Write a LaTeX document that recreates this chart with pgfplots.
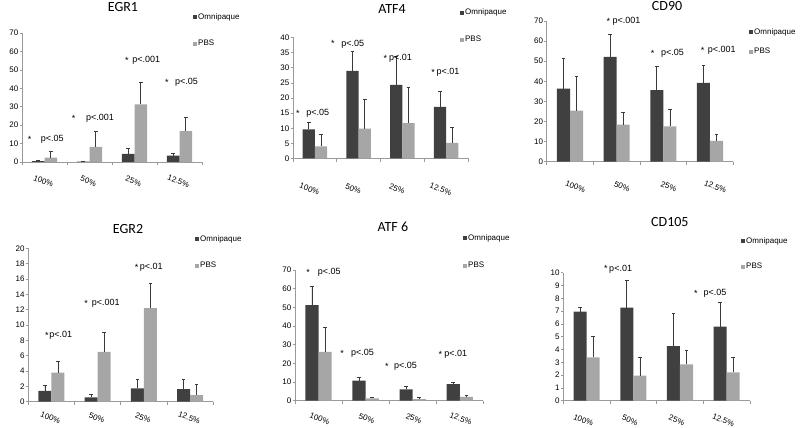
\documentclass[border=0pt]{standalone}
\usepackage{fontspec}
\setmainfont{Liberation Sans}
\newfontfamily\titlefont{Carlito}
\usepackage{pgfplots}
\usepackage{pgfplotstable}
\pgfplotsset{compat=1.18}

\definecolor{omnicol}{HTML}{404040}
\definecolor{pbscol}{HTML}{A6A6A6}
\definecolor{errcol}{HTML}{3A3A3A}
\definecolor{axisgray}{HTML}{9A9A9A}

\newcommand\ticks{\fontsize{8}{9}\selectfont}
\newcommand\pfont{\fontsize{9}{10}\selectfont}
\newcommand\tfont{\titlefont\fontsize{14}{15}\selectfont}
% star at x=#1, text starting at x=#2, both at height #3
\newcommand\pv[4]{%
  \node[font=\pfont, inner sep=0pt] at (axis cs:#1,#3) {*};
  \node[font=\pfont, inner sep=0pt, anchor=west] at (axis cs:#2,#3) {p<#4};}

% x, Omnipaque, error, PBS, error
\pgfplotstableread{
x o oe p pe
0 0.5 0.5 2.4 3.2
1 0.2 0.3 8.2 8.4
2 4.4 3.0 31.2 11.8
3 3.4 1.4 16.8 7.6
}\egrone
\pgfplotstableread{
x o oe p pe
0 9.6 2.3 4.0 3.9
1 29.0 6.5 9.9 9.6
2 24.3 9.5 11.7 11.9
3 17.1 5.1 5.2 5.2
}\atffour
\pgfplotstableread{
x o oe p pe
0 36.3 15.3 25.4 17.0
1 52.2 11.3 18.4 6.0
2 35.6 11.7 17.6 8.4
3 39.2 8.7 10.3 3.2
}\cdninety
\pgfplotstableread{
x o oe p pe
0 1.4 0.7 3.8 1.5
1 0.55 0.4 6.5 2.6
2 1.75 1.15 12.2 3.2
3 1.65 1.25 0.87 1.33
}\egrtwo
\pgfplotstableread{
x o oe p pe
0 51.2 10.2 26.1 13.0
1 10.7 1.6 1.25 0.75
2 6.1 1.8 0.9 0.9
3 8.9 0.9 2.0 0.9
}\atfsix
\pgfplotstableread{
x o oe p pe
0 6.95 0.32 3.39 1.61
1 7.27 2.16 1.95 1.44
2 4.27 2.55 2.84 1.12
3 5.78 1.88 2.21 1.18
}\cdonefive

\pgfplotsset{
  panel/.style={
    scale only axis, anchor=south west, ybar, bar width=0.28,
    xmin=-0.5, xmax=3.5, ymin=0, clip=false,
    axis x line*=bottom, axis y line*=left,
    axis line style={draw=axisgray, line width=0.7pt},
    xtick={0,1,2,3}, xticklabels={100\%,50\%,25\%,12.5\%},
    minor xtick={-0.5,0.5,1.5,2.5,3.5},
    major x tick style={draw=none},
    minor x tick style={draw=axisgray, line width=0.7pt},
    ytick style={draw=axisgray, line width=0.7pt},
    tick align=outside, major tick length=2.5pt, minor tick length=3.5pt,
    tick label style={font=\ticks},
    /pgf/number format/assume math mode=true,
    yticklabel style={inner sep=1pt},
    xticklabel style={rotate=-21, anchor=center},
    title style={font=\tfont, anchor=center},
    legend style={draw=none, fill=none, font=\ticks, anchor=north west,
      inner sep=0pt, nodes={inner sep=1pt}},
    legend cell align=left,
    legend image code/.code={\fill[##1] (0pt,-2pt) rectangle (4pt,2pt);},
  },
  omni/.style={fill=omnicol, draw=none, bar shift=-0.14,
    error bars/y dir=plus, error bars/y explicit,
    error bars/error bar style={draw=errcol, line width=0.7pt},
    error bars/error mark options={rotate=90, mark size=1.8pt, draw=errcol, line width=0.7pt}},
  pbs/.style={fill=pbscol, draw=none, bar shift=0.14,
    error bars/y dir=plus, error bars/y explicit,
    error bars/error bar style={draw=errcol, line width=0.7pt},
    error bars/error mark options={rotate=90, mark size=1.8pt, draw=errcol, line width=0.7pt}},
}

\begin{document}
\begin{tikzpicture}
\useasboundingbox (0,0) rectangle (800pt,428pt);

% EGR1
\begin{axis}[panel, at={(22pt,266pt)}, width=180pt, height=129pt,
  ymax=70, ytick={0,10,...,70},
  xticklabel style={xshift=5pt, yshift=-16pt},
  title=EGR1, title style={at={(axis description cs:0.561,1.155)}},
  legend style={at={(axis description cs:0.95,1.162)}, row sep=17.5pt}]
\addplot[omni] table[x=x, y=o, y error=oe] {\egrone};
\addplot[pbs] table[x=x, y=p, y error=pe] {\egrone};
\legend{Omnipaque, PBS}
\pv{-0.33}{-0.083}{12.3}{.05}
\pv{0.65}{0.92}{23.8}{.001}
\pv{1.83}{1.95}{55.2}{.001}
\pv{2.72}{2.9}{43.2}{.05}
\end{axis}

% ATF4
\begin{axis}[panel, at={(293pt,269.5pt)}, width=175pt, height=121pt,
  ymax=40, ytick={0,5,...,40},
  xticklabel style={xshift=5pt, yshift=-28pt},
  title=ATF4, title style={at={(axis description cs:0.566,1.186)}},
  legend style={at={(axis description cs:0.954,1.244)}, row sep=17.5pt}]
\addplot[omni] table[x=x, y=o, y error=oe] {\atffour};
\addplot[pbs] table[x=x, y=p, y error=pe] {\atffour};
\legend{Omnipaque, PBS}
\pv{-0.39}{-0.2}{15}{.05}
\pv{0.41}{0.6}{37.9}{.05}
\pv{1.61}{1.69}{33.2}{.01}
\pv{2.7}{2.78}{28.5}{.01}
\end{axis}

% CD90
\begin{axis}[panel, at={(546.7pt,266.3pt)}, width=186.6pt, height=140.7pt,
  ymax=70, ytick={0,10,...,70},
  xticklabel style={xshift=13pt, yshift=-19pt},
  title=CD90, title style={at={(axis description cs:0.645,1.064)}},
  legend style={at={(axis description cs:1.084,0.957)}, row sep=10.5pt}]
\addplot[omni] table[x=x, y=o, y error=oe] {\cdninety};
\addplot[pbs] table[x=x, y=p, y error=pe] {\cdninety};
\legend{Omnipaque, PBS}
\pv{0.82}{0.91}{70}{.001}
\pv{1.77}{1.95}{53.9}{.05}
\pv{2.84}{2.95}{55.6}{.001}
\end{axis}

% EGR2
\begin{axis}[panel, at={(28.3pt,26.3pt)}, width=185pt, height=153.4pt,
  ymax=20, ytick={0,2,...,20},
  xticklabel style={xshift=4pt, yshift=-13pt},
  title=EGR2, title style={at={(axis description cs:0.539,1.087)}},
  legend style={at={(axis description cs:0.901,1.093)}, row sep=17.5pt}]
\addplot[omni] table[x=x, y=o, y error=oe] {\egrtwo};
\addplot[pbs] table[x=x, y=p, y error=pe] {\egrtwo};
\legend{Omnipaque, PBS}
\pv{-0.1}{-0.05}{8.6}{.01}
\pv{0.75}{0.87}{12.8}{.001}
\pv{1.84}{1.91}{17.5}{.01}
\end{axis}

% ATF 6
\begin{axis}[panel, at={(295pt,27.3pt)}, width=188.3pt, height=130.7pt,
  ymax=70, ytick={0,10,...,70},
  xticklabel style={xshift=6.5pt, yshift=-14pt},
  title=ATF 6, title style={at={(axis description cs:0.52,1.283)}},
  legend style={at={(axis description cs:0.892,1.282)}, row sep=18.5pt}]
\addplot[omni] table[x=x, y=o, y error=oe] {\atfsix};
\addplot[pbs] table[x=x, y=p, y error=pe] {\atfsix};
\legend{Omnipaque, PBS}
\pv{-0.22}{-0.02}{68.6}{.05}
\pv{0.5}{0.69}{25.4}{.05}
\pv{1.45}{1.6}{18.2}{.05}
\pv{2.59}{2.67}{25}{.01}
\end{axis}

% CD105
\begin{axis}[panel, at={(563.3pt,27.3pt)}, width=186.7pt, height=128pt,
  ymax=10, ytick={0,1,...,10},
  xticklabel style={xshift=3pt, yshift=-17pt},
  title=CD105, title style={at={(axis description cs:0.571,1.349)}},
  legend style={at={(axis description cs:0.952,1.286)}, row sep=16.5pt}]
\addplot[omni] table[x=x, y=o, y error=oe] {\cdonefive};
\addplot[pbs] table[x=x, y=p, y error=pe] {\cdonefive};
\legend{Omnipaque, PBS}
\pv{0.41}{0.48}{10.3}{.01}
\pv{2.34}{2.5}{8.4}{.05}
\end{axis}
\end{tikzpicture}
\end{document}
